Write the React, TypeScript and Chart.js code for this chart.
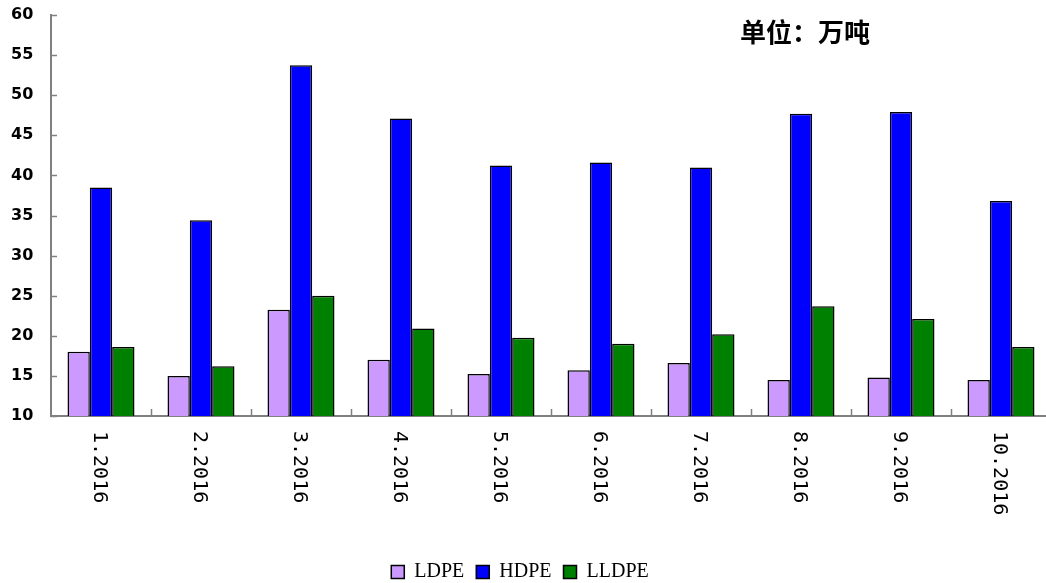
import React, { useEffect, useRef } from "react";
import { Chart, registerables } from "chart.js";

Chart.register(...registerables);

const categories = ["1.2016", "2.2016", "3.2016", "4.2016", "5.2016", "6.2016", "7.2016", "8.2016", "9.2016", "10.2016"];
const ldpe = [18.0, 15.0, 23.25, 17.0, 15.25, 15.7, 16.6, 14.5, 14.8, 14.5];
const hdpe = [38.5, 34.4, 53.75, 47.1, 41.25, 41.6, 41.0, 47.7, 47.9, 36.8];
const lldpe = [18.6, 16.2, 25.0, 20.9, 19.75, 19.0, 20.2, 23.7, 22.1, 18.6];
const yMin = 10;
const yMax = 60;
const yStep = 5;
const unitText = "单位：万吨";

const decorPlugin = {
  id: "decor",
  afterLayout(chart: any) {
    if (chart.legend) {
      chart.legend.left -= 11;
      chart.legend.right -= 11;
    }
  },
  afterDatasetsDraw(chart: any) {
    const { ctx } = chart;
    const x = chart.scales.x;
    const y = chart.scales.y;
    ctx.save();
    ctx.strokeStyle = "#808080";
    ctx.lineWidth = 1.5;
    for (let v = yMin; v <= yMax; v += yStep) {
      const py = Math.round(y.getPixelForValue(v)) + 0.5;
      ctx.beginPath();
      ctx.moveTo(x.left, py);
      ctx.lineTo(x.left + 6, py);
      ctx.stroke();
    }
    const n = categories.length;
    const w = (x.right - x.left) / n;
    for (let i = 1; i < n; i++) {
      const px = Math.round(x.left + i * w) + 0.5;
      ctx.beginPath();
      ctx.moveTo(px, y.bottom);
      ctx.lineTo(px, y.bottom - 7);
      ctx.stroke();
    }
    ctx.fillStyle = "#000";
    ctx.font = "20px 'DejaVu Sans Mono'";
    ctx.textAlign = "left";
    ctx.textBaseline = "middle";
    categories.forEach((lab, i) => {
      const cx = x.getPixelForValue(i) - 2;
      ctx.save();
      ctx.translate(cx, y.bottom + 15);
      ctx.rotate(Math.PI / 2);
      ctx.fillText(lab, 0, 0);
      ctx.restore();
    });
    ctx.font = "bold 26px 'Noto Sans CJK SC'";
    ctx.textBaseline = "middle";
    ctx.fillText(unitText, 740, 32);
    ctx.restore();
  },
};

export default function App() {
  const ref = useRef<HTMLCanvasElement>(null);
  useEffect(() => {
    if (!ref.current) return;
    const chart = new Chart(ref.current, {
      type: "bar",
      data: {
        labels: categories,
        datasets: [
          { label: "LDPE", data: ldpe, backgroundColor: "#CC99FF", borderColor: "#000", borderWidth: 1.5, borderSkipped: false },
          { label: "HDPE", data: hdpe, backgroundColor: "#0000FF", borderColor: "#000", borderWidth: 1.5, borderSkipped: false },
          { label: "LLDPE", data: lldpe, backgroundColor: "#008000", borderColor: "#000", borderWidth: 1.5, borderSkipped: false },
        ],
      },
      options: {
        responsive: false,
        animation: false,
        devicePixelRatio: 1,
        datasets: { bar: { categoryPercentage: 0.67, barPercentage: 1 } },
        layout: { padding: { top: 15, right: 9, bottom: 8, left: 11 } },
        plugins: {
          tooltip: { enabled: false },
          legend: {
            position: "bottom",
            labels: {
              color: "#000",
              font: { family: "'Liberation Serif'", size: 20 },
              boxWidth: 13,
              boxHeight: 13,
              padding: 12,
            },
          },
        },
        scales: {
          x: {
            grid: { display: false },
            border: { display: true, color: "#808080", width: 2 },
            ticks: { display: false },
            afterFit: (s: any) => { s.height = 134; },
          },
          y: {
            min: yMin,
            max: yMax,
            grid: { display: false, drawTicks: false },
            border: { display: true, color: "#808080", width: 2 },
            ticks: {
              stepSize: yStep,
              color: "#000",
              padding: 0,
              crossAlign: "far",
              font: { family: "'DejaVu Sans'", size: 16, weight: "bold" },
            },
            afterFit: (s: any) => { s.width = 40; },
          },
        },
      },
      plugins: [decorPlugin],
    });
    return () => chart.destroy();
  }, []);
  return (
    <div style={{ position: "fixed", left: 0, top: 0, width: 1046, height: 583, overflow: "hidden", background: "#fff" }}>
      <canvas ref={ref} width={1060} height={600} style={{ display: "block" }} />
    </div>
  );
}
